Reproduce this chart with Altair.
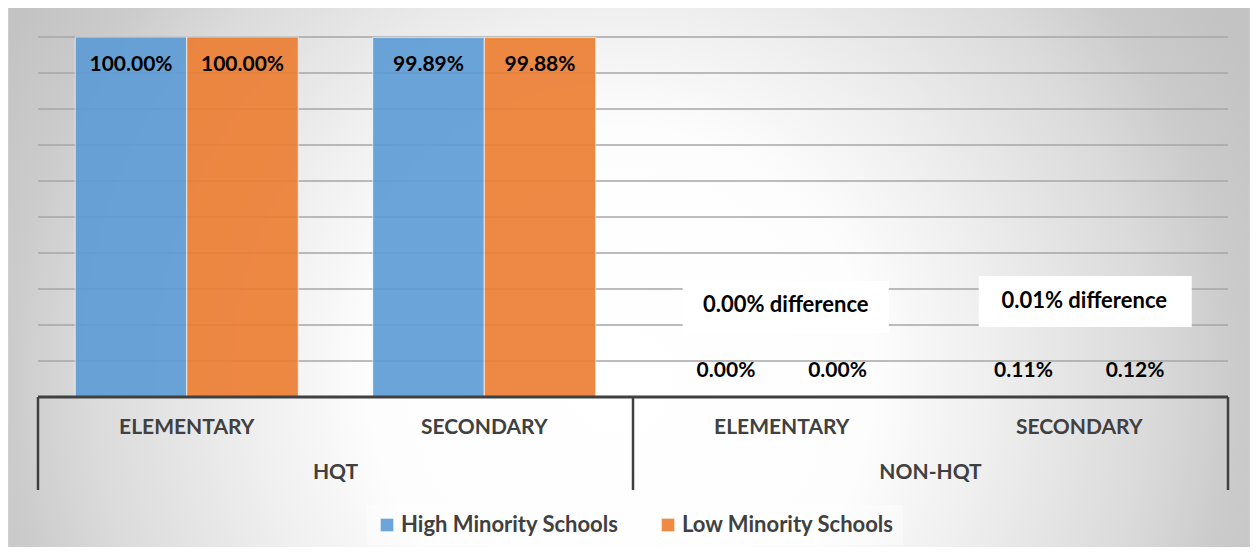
import altair as alt
import pandas as pd

# ---- data ----
cats = ["HQT|ELEMENTARY", "HQT|SECONDARY", "NON-HQT|ELEMENTARY", "NON-HQT|SECONDARY"]
sub_labels = ["ELEMENTARY", "SECONDARY", "ELEMENTARY", "SECONDARY"]
group_labels = ["HQT", "HQT", "NON-HQT", "NON-HQT"]
series = ["High Minority Schools", "Low Minority Schools"]
high_vals = [100.00, 99.89, 0.00, 0.11]
low_vals = [100.00, 99.88, 0.00, 0.12]
colors = ["#5B9BD5", "#ED7D31"]
grid_vals = [10, 20, 30, 40, 50, 60, 70, 80, 90, 100]
diff_cats = ["NON-HQT|ELEMENTARY", "NON-HQT|SECONDARY"]
diff_texts = ["0.00% difference", "0.01% difference"]

rows = []
for i, c in enumerate(cats):
    for s, vals in zip(series, [high_vals, low_vals]):
        rows.append({"cat": c, "series": s, "value": vals[i], "label": f"{vals[i]:.2f}%"})
bars_df = pd.DataFrame(rows)
bars_df["big"] = bars_df["value"] > 50

cat_df = pd.DataFrame({"cat": cats, "sub": sub_labels, "group": group_labels})
grp_df = pd.DataFrame({"cat": ["HQT|SECONDARY", "NON-HQT|SECONDARY"], "group": ["HQT", "NON-HQT"]})
sep_start_df = pd.DataFrame({"cat": [cats[0], cats[2]]})
sep_end_df = pd.DataFrame({"cat": [cats[3]]})
grid_df = pd.DataFrame({"v": grid_vals})
diff1_df = pd.DataFrame({"cat": diff_cats[:1], "text": diff_texts[:1]})
diff2_df = pd.DataFrame({"cat": diff_cats[1:], "text": diff_texts[1:]})
one = pd.DataFrame({"a": [0]})

W, H = 1190, 360
FONT = "Lato"
AX = "#404040"

xsc = alt.Scale(domain=cats, paddingInner=0, paddingOuter=0)
ysc = alt.Scale(domain=[0, 100], nice=False)
xfield = lambda **kw: alt.X("cat:N", scale=xsc, axis=None, **kw)
xoff = alt.XOffset("series:N", scale=alt.Scale(domain=series, paddingInner=0, paddingOuter=0.334))

bg = alt.Chart(one).mark_rect(
    color=alt.Gradient(
        gradient="radial",
        x1=0.493, y1=0.581, r1=0.0,
        x2=0.493, y2=0.581, r2=0.5636,
        stops=[
            alt.GradientStop(color="#ffffff", offset=0.0),
            alt.GradientStop(color="#fdfdfd", offset=0.36),
            alt.GradientStop(color="#ededed", offset=0.55),
            alt.GradientStop(color="#dadada", offset=0.76),
            alt.GradientStop(color="#cbcbcb", offset=0.88),
            alt.GradientStop(color="#c3c3c3", offset=1.0),
        ],
    ),
    stroke="#d4d4d4", strokeWidth=1,
).encode(x=alt.value(-30), x2=alt.value(W + 22), y=alt.value(-30), y2=alt.value(H + 154))

grid = alt.Chart(grid_df).mark_rule(color="#a6a6a6", strokeWidth=1.5).encode(
    y=alt.Y("v:Q", scale=ysc, axis=None)
)

bars = alt.Chart(bars_df).mark_bar(opacity=0.9, stroke="#ffffff", strokeWidth=1, strokeOpacity=0.7).encode(
    x=xfield(),
    xOffset=xoff,
    y=alt.Y("value:Q", scale=ysc, axis=None),
    color=alt.Color(
        "series:N",
        scale=alt.Scale(domain=series, range=colors),
        legend=alt.Legend(
            title=None, orient="none", legendX=329, legendY=468, direction="horizontal",
            symbolType="square", symbolSize=160, symbolStrokeWidth=0, symbolOpacity=0.9,
            labelFont=FONT, labelFontSize=22, labelFontWeight="bold", labelColor=AX,
            columnPadding=38, labelOffset=3, labelLimit=400,
            fillColor="rgba(255,255,255,0.4)", padding=9,
        ),
    ),
)

lab_big = alt.Chart(bars_df).transform_filter("datum.big").mark_text(
    font=FONT, fontSize=21, fontWeight="bold", color="#000000", dy=28, baseline="middle"
).encode(x=xfield(), xOffset=xoff, y=alt.Y("value:Q", scale=ysc, axis=None), text="label:N")

lab_small = alt.Chart(bars_df).transform_filter("!datum.big").transform_calculate(zero="0").mark_text(
    font=FONT, fontSize=21, fontWeight="bold", color="#000000", dy=-26, baseline="middle"
).encode(x=xfield(), xOffset=xoff, y=alt.Y("zero:Q", scale=ysc, axis=None), text="label:N")

box1 = alt.Chart(diff1_df).mark_bar(color="#ffffff", width=206, xOffset=4).encode(
    x=xfield(), y=alt.value(244), y2=alt.value(296),
)
box1_text = alt.Chart(diff1_df).mark_text(
    font=FONT, fontSize=22, fontWeight="bold", color="#000000", baseline="middle", dx=4
).encode(x=xfield(), y=alt.value(268), text="text:N")
box2 = alt.Chart(diff2_df).mark_bar(color="#ffffff", width=213, xOffset=6).encode(
    x=xfield(), y=alt.value(239), y2=alt.value(290),
)
box2_text = alt.Chart(diff2_df).mark_text(
    font=FONT, fontSize=22, fontWeight="bold", color="#000000", baseline="middle", dx=5
).encode(x=xfield(), y=alt.value(264), text="text:N")

baseline = alt.Chart(one).mark_rule(color=AX, strokeWidth=3).encode(y=alt.datum(0, scale=ysc))

sep1 = alt.Chart(sep_start_df).mark_rule(color=AX, strokeWidth=2.5).encode(
    x=xfield(bandPosition=0), y=alt.value(360), y2=alt.value(453)
)
sep2 = alt.Chart(sep_end_df).mark_rule(color=AX, strokeWidth=2.5).encode(
    x=xfield(bandPosition=1), y=alt.value(360), y2=alt.value(453)
)

sub_text = alt.Chart(cat_df).mark_text(
    font=FONT, fontSize=21, fontWeight="bold", color=AX, baseline="middle"
).encode(x=xfield(), y=alt.value(391), text="sub:N")

grp_text = alt.Chart(grp_df).mark_text(
    font=FONT, fontSize=21, fontWeight="bold", color=AX, baseline="middle"
).encode(x=xfield(bandPosition=0), y=alt.value(436), text="group:N")

chart = alt.layer(
    bg, grid, bars, box1, box2, box1_text, box2_text, lab_big, lab_small,
    baseline, sep1, sep2, sub_text, grp_text
).properties(
    width=W, height=H,
    autosize=alt.AutoSizeParams(type="none"),
    padding={"left": 30, "top": 29, "right": 22, "bottom": 150},
    background="#ffffff",
).configure_view(stroke=None).configure(font=FONT)

chart.save("out.html", embed_options={"renderer": "svg", "actions": False})
